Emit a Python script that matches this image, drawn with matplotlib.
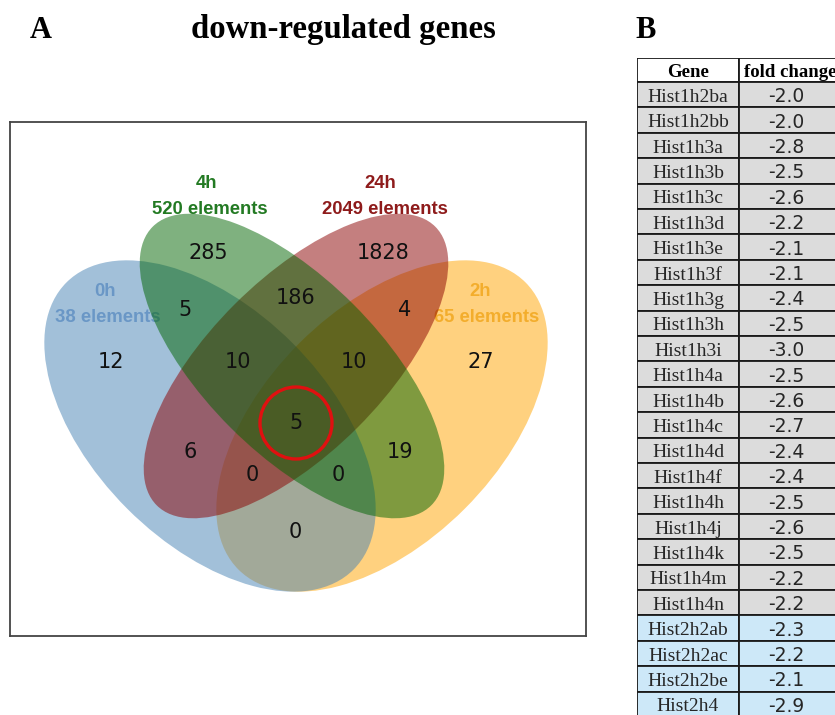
import matplotlib
matplotlib.use("Agg")
import matplotlib.pyplot as plt
from matplotlib.patches import Ellipse, Circle, Rectangle

# --- data -------------------------------------------------------------
genes = ["Hist1h2ba", "Hist1h2bb", "Hist1h3a", "Hist1h3b", "Hist1h3c", "Hist1h3d",
         "Hist1h3e", "Hist1h3f", "Hist1h3g", "Hist1h3h", "Hist1h3i", "Hist1h4a",
         "Hist1h4b", "Hist1h4c", "Hist1h4d", "Hist1h4f", "Hist1h4h", "Hist1h4j",
         "Hist1h4k", "Hist1h4m", "Hist1h4n", "Hist2h2ab", "Hist2h2ac", "Hist2h2be",
         "Hist2h4"]
fold_change = [-2.0, -2.0, -2.8, -2.5, -2.6, -2.2, -2.1, -2.1, -2.4, -2.5, -3.0, -2.5,
               -2.6, -2.7, -2.4, -2.4, -2.5, -2.6, -2.5, -2.2, -2.2, -2.3, -2.2, -2.1,
               -2.9]

set_names = ["0h", "4h", "24h", "2h"]
set_sizes = [38, 520, 2049, 65]
region_sets = ["0h", "4h", "24h", "2h", "0h+4h", "4h+24h", "24h+2h", "0h+24h", "4h+2h",
               "0h+2h", "0h+4h+24h", "4h+24h+2h", "0h+24h+2h", "0h+4h+2h", "0h+4h+24h+2h"]
region_counts = [12, 285, 1828, 27, 5, 186, 4, 6, 19, 0, 10, 10, 0, 0, 5]

# --- layout (pixel coordinates of the venn box) ------------------------
fill = {"0h": "#4682b4", "4h": "#006400", "24h": "#8b0000", "2h": "#ffa500"}
label_col = {"0h": "#6a97c6", "4h": "#237a23", "24h": "#8e1b1b", "2h": "#f3ad2c"}
shape = {"0h": ((210, 426), 406, 234, 45), "4h": ((292, 366), 394, 174, 45),
         "24h": ((296, 366), 394, 174, -45), "2h": ((382, 426), 406, 234, -45)}
draw_order = ["2h", "0h", "24h", "4h"]
label_pos = {"0h": ((105, 292), (108, 318)), "4h": ((206, 183), (210, 210)),
             "24h": ((380, 183), (385, 210)), "2h": ((480, 292), (487, 318))}
region_pos = {"0h": (111, 362), "4h": (208, 253), "24h": (383, 253), "2h": (481, 362),
              "0h+4h": (185, 310), "4h+24h": (296, 298), "24h+2h": (405, 310),
              "0h+24h": (190, 452), "4h+2h": (400, 452), "0h+2h": (295, 532),
              "0h+4h+24h": (238, 362), "4h+24h+2h": (354, 362), "0h+24h+2h": (252, 475),
              "0h+4h+2h": (338, 475), "0h+4h+24h+2h": (296, 423)}

fig = plt.figure(figsize=(8.35, 7.15), dpi=100)

# titles
fig.text(41 / 835, 1 - 38 / 715, "A", family="Liberation Serif", weight="bold", fontsize=22, ha="center", va="baseline")
fig.text(343 / 835, 1 - 38 / 715, "down-regulated genes", family="Liberation Serif", weight="bold", fontsize=23.6, ha="center", va="baseline")
fig.text(646 / 835, 1 - 38 / 715, "B", family="Liberation Serif", weight="bold", fontsize=22, ha="center", va="baseline")

# --- venn ---------------------------------------------------------------
ax = fig.add_axes([10 / 835, (715 - 636) / 715, 576 / 835, 514 / 715])
ax.set_xlim(10, 586); ax.set_ylim(636, 122)
ax.set_xticks([]); ax.set_yticks([])
for s in ax.spines.values():
    s.set_color("#444444"); s.set_linewidth(1.3)

size_of = dict(zip(set_names, set_sizes))
for z, name in enumerate(draw_order):
    (cx, cy), w, h, ang = shape[name]
    ax.add_patch(Ellipse((cx, cy), w, h, angle=ang, facecolor=fill[name], alpha=0.5, lw=0, zorder=2 + 2 * z))
    (x1, y1), (x2, y2) = label_pos[name]
    lz = 3 + 2 * z if name in ("0h", "2h") else 20
    ax.text(x1, y1, name, color=label_col[name], family="Liberation Sans", weight="bold", fontsize=13.3, ha="center", va="center", zorder=lz)
    ax.text(x2, y2, f"{size_of[name]} elements", color=label_col[name], family="Liberation Sans", weight="bold", fontsize=13.3, ha="center", va="center", zorder=lz)

for key, n in zip(region_sets, region_counts):
    x, y = region_pos[key]
    ax.text(x, y, str(n), color="#111111", family="DejaVu Sans", fontsize=15, ha="center", va="center", zorder=30)

ax.add_patch(Circle(region_pos["0h+4h+24h+2h"], 36, facecolor="none", edgecolor="#e01010", lw=2.4, zorder=31))

# --- table --------------------------------------------------------------
row_h = 25.4
head_h = 24 / row_h
n_rows = len(genes)
span = head_h + n_rows
tab = fig.add_axes([637 / 835, (715 - 58 - span * row_h) / 715, 204 / 835, span * row_h / 715])
tab.set_xlim(0, 2); tab.set_ylim(span, 0)
tab.axis("off")

for col, head in enumerate(["Gene", "fold change"]):
    tab.add_patch(Rectangle((col, 0), 1, head_h, facecolor="white", edgecolor="#1a1a1a", lw=1.3))
    tab.text(col + 0.5, head_h / 2 + 0.08, head, family="Liberation Serif", weight="bold", fontsize=13.5, ha="center", va="center")

for i, (g, fc) in enumerate(zip(genes, fold_change)):
    bg = "#cde8f8" if g.startswith("Hist2") else "#dcdcdc"
    top = head_h + i
    for col in range(2):
        tab.add_patch(Rectangle((col, top), 1, 1, facecolor=bg, edgecolor="#1a1a1a", lw=1.3))
    tab.text(0.5, top + 0.6, g, family="Liberation Serif", fontsize=14, color="#262626", ha="center", va="center")
    tab.text(1.46, top + 0.58, f"{fc:.1f}", family="DejaVu Sans", fontsize=13.5, color="#262626", ha="center", va="center")

fig.savefig("out.png", dpi=100)
